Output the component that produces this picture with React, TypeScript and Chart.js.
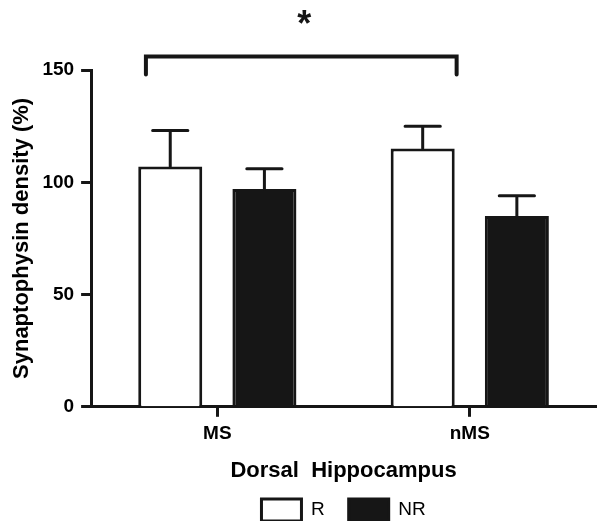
import React, { useEffect, useRef } from 'react';
import { Chart, registerables } from 'chart.js';

Chart.register(...registerables);

const categories = ['MS', 'nMS'];
const seriesNames = ['R', 'NR'];
const rValues = [107, 115];
const nrValues = [97, 85];
const rErrors = [16, 10];
const nrErrors = [9, 9];
const yTicks = [0, 50, 100, 150];
const bracketValue = 156;
const bracketEndValue = 148;
const starValue = 165;
const starLabel = '*';
const xTitle = 'Dorsal  Hippocampus';
const yTitle = 'Synaptophysin density (%)';

const FONT = '"Liberation Sans", Arial, Helvetica, sans-serif';
const INK = '#161616';

const errorsBySeries = [rErrors, nrErrors];

const annotPlugin = {
  id: 'annot',
  afterDatasetsDraw(chart: any) {
    const ctx = chart.ctx;
    const yScale = chart.scales.y;
    ctx.save();
    ctx.strokeStyle = INK;
    ctx.lineWidth = 3;
    ctx.lineCap = 'round';
    chart.data.datasets.forEach((ds: any, i: number) => {
      const meta = chart.getDatasetMeta(i);
      meta.data.forEach((el: any, j: number) => {
        const v = ds.data[j];
        const e = errorsBySeries[i][j];
        const yTop = el.y;
        const yErr = yScale.getPixelForValue(v + e);
        const capW = el.width * 0.55;
        ctx.beginPath();
        ctx.moveTo(el.x, yTop);
        ctx.lineTo(el.x, yErr);
        ctx.moveTo(el.x - capW / 2, yErr);
        ctx.lineTo(el.x + capW / 2, yErr);
        ctx.stroke();
      });
    });
    // significance bracket between R bars of MS and nMS
    const meta0 = chart.getDatasetMeta(0);
    const a = meta0.data[0];
    const b = meta0.data[1];
    const x1 = a.x - a.width * 0.38;
    const x2 = b.x + b.width * 0.53;
    const yb = yScale.getPixelForValue(bracketValue);
    const ye = yScale.getPixelForValue(bracketEndValue);
    ctx.lineWidth = 4;
    ctx.beginPath();
    ctx.moveTo(x1, ye);
    ctx.lineTo(x1, yb);
    ctx.lineTo(x2, yb);
    ctx.lineTo(x2, ye);
    ctx.stroke();
    ctx.fillStyle = INK;
    ctx.font = 'bold 36px ' + FONT;
    ctx.textAlign = 'center';
    ctx.textBaseline = 'alphabetic';
    ctx.fillText(starLabel, (x1 + x2) / 2 + 3, yScale.getPixelForValue(starValue));
    ctx.restore();
  },
};

export default function App() {
  const ref = useRef<HTMLCanvasElement | null>(null);
  useEffect(() => {
    if (!ref.current) return;
    const chart = new Chart(ref.current, {
      type: 'bar',
      data: {
        labels: categories,
        datasets: [
          {
            label: seriesNames[0],
            data: rValues,
            backgroundColor: '#ffffff',
            borderColor: INK,
            borderWidth: 3,
            categoryPercentage: 0.746,
            barPercentage: 0.68,
          },
          {
            label: seriesNames[1],
            data: nrValues,
            backgroundColor: INK,
            borderColor: INK,
            borderWidth: 3,
            categoryPercentage: 0.746,
            barPercentage: 0.68,
          },
        ],
      },
      options: {
        animation: false,
        responsive: true,
        maintainAspectRatio: false,
        layout: { padding: { left: 1, right: 1, top: 70, bottom: -10 } },
        plugins: {
          tooltip: { enabled: false },
          legend: {
            position: 'bottom',
            fullSize: false,
            labels: {
              boxWidth: 40,
              boxHeight: 22,
              padding: 24,
              color: '#000',
              font: { size: 19, family: FONT },
            },
          },
        },
        scales: {
          x: {
            offset: true,
            border: { display: true, color: INK, width: 3 },
            grid: { offset: false, drawOnChartArea: false, drawTicks: true, tickLength: 10, tickWidth: 3, tickColor: INK },
            ticks: { color: '#000', padding: 6, font: { size: 19, weight: 'bold', family: FONT } },
            title: { display: true, text: xTitle, color: '#000', padding: { top: 6, bottom: -9 }, font: { size: 22, weight: 'bold', family: FONT } },
          },
          y: {
            min: 0,
            max: 150,
            afterBuildTicks: (s: any) => {
              s.ticks = yTicks.map((v) => ({ value: v }));
            },
            border: { display: true, color: INK, width: 3 },
            grid: { drawOnChartArea: false, drawTicks: true, tickLength: 10, tickWidth: 3, tickColor: INK },
            ticks: { color: '#000', padding: 7, font: { size: 19, weight: 'bold', family: FONT } },
            title: { display: true, text: yTitle, color: '#000', padding: { top: 8, bottom: 0 }, font: { size: 22, weight: 'bold', family: FONT } },
          },
        },
      },
      plugins: [annotPlugin],
    } as any);
    return () => chart.destroy();
  }, []);
  return (
    <div style={{ position: 'fixed', left: 0, top: 0, width: 597, height: 521, background: '#fff' }}>
      <canvas ref={ref} />
    </div>
  );
}
